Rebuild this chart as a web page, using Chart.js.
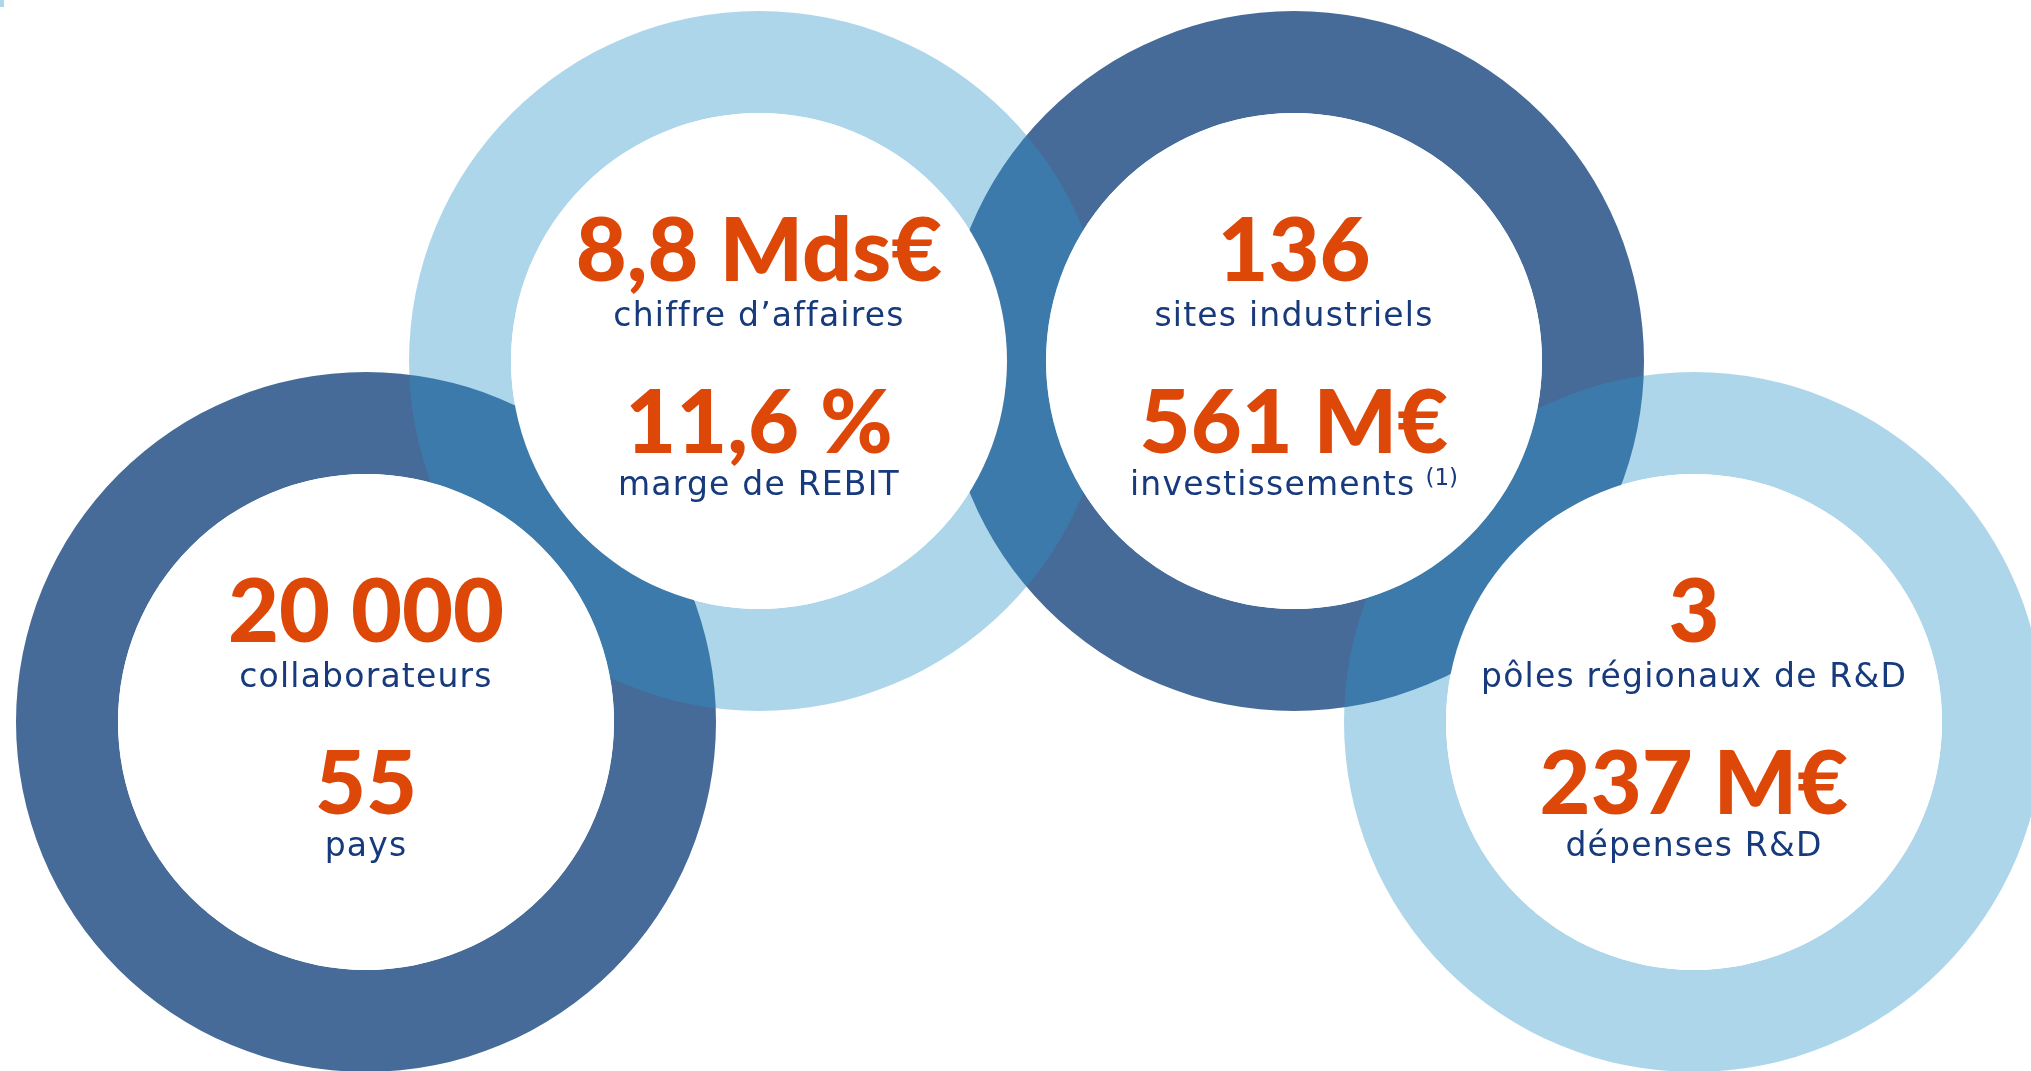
<!DOCTYPE html>
<html lang="fr">
<head>
<meta charset="utf-8">
<title>Chiffres clés</title>
<script src="https://cdn.jsdelivr.net/npm/chart.js@4.4.1/dist/chart.umd.min.js"></script>
<style>
  html, body { margin: 0; padding: 0; background: #fff; }
  #stage { position: relative; width: 2031px; height: 1071px; overflow: hidden; background: #fff; }
  .ring { position: absolute; }
  .disc { position: absolute; background: #fff; border-radius: 50%; z-index: 3; }
  .line { position: absolute; text-align: center; white-space: nowrap; line-height: 1; z-index: 4; }
  .num { color: #dd4708; font-family: Lato, Roboto, sans-serif; font-weight: 900; font-size: 88px; }
  .lbl { color: #173a7c; font-family: "DejaVu Sans", sans-serif; font-size: 33px; letter-spacing: 1.2px; }
  .note { font-size: 23px; position: relative; top: -10px; margin-left: 10px; letter-spacing: 0; }
  #corner { position: absolute; left: 0; top: 0; width: 4px; height: 7px; background: #aed6ea; }
</style>
</head>
<body>
<div id="stage"><div id="corner"></div></div>
<script>
// chiffres clés, un anneau par bloc
const ringTopValues = ['20 000', '8,8 Mds€', '136', '3'];
const ringTopLabels = ['collaborateurs', 'chiffre d’affaires', 'sites industriels', 'pôles régionaux de R&D'];
const ringBottomValues = ['55', '11,6 %', '561 M€', '237 M€'];
const ringBottomLabels = ['pays', 'marge de REBIT', 'investissements', 'dépenses R&D'];
const ringNotes = ['', '', '(1)', ''];
const ringShares = [100, 100, 100, 100];
const ringTones = ['dark', 'light', 'dark', 'light'];

// mise en page
const centers = [[366, 722], [759, 361], [1294, 361], [1694, 722]];
const outerR = 350, innerR = 248;
// light rings are see-through: crossing a dark ring gives the mid blue overlap
const toneColor = { dark: '#476b99', light: 'rgba(42, 147, 200, 0.38)' };
const toneLayer = { dark: 1, light: 2 };
const lineOffsets = [-80, -35, 92, 134]; // baselines from ring centre

const stage = document.getElementById('stage');
const meas = document.createElement('canvas').getContext('2d');

function baselineShift(el) {
  const cs = getComputedStyle(el);
  const size = parseFloat(cs.fontSize);
  meas.font = cs.fontWeight + ' ' + cs.fontSize + ' ' + cs.fontFamily;
  const m = meas.measureText('Hg');
  const a = m.fontBoundingBoxAscent, d = m.fontBoundingBoxDescent;
  return (size - (a + d)) / 2 + a;
}

function addLine(cls, text, cx, baseline, note) {
  const el = document.createElement('div');
  el.className = 'line ' + cls;
  el.textContent = text;
  if (note) {
    const sup = document.createElement('span');
    sup.className = 'note';
    sup.textContent = note;
    el.appendChild(sup);
  }
  el.style.left = (cx - 400) + 'px';
  el.style.width = '800px';
  stage.appendChild(el);
  el.style.top = (baseline - baselineShift(el)) + 'px';
}

ringShares.forEach(function (share, i) {
  const cx = centers[i][0], cy = centers[i][1];

  const box = document.createElement('div');
  box.className = 'ring';
  box.style.left = (cx - outerR) + 'px';
  box.style.top = (cy - outerR) + 'px';
  box.style.zIndex = toneLayer[ringTones[i]];
  const canvas = document.createElement('canvas');
  canvas.width = 2 * outerR;
  canvas.height = 2 * outerR;
  box.appendChild(canvas);
  stage.appendChild(box);

  new Chart(canvas.getContext('2d'), {
    type: 'doughnut',
    data: {
      labels: [ringTopLabels[i]],
      datasets: [{
        data: [share],
        backgroundColor: toneColor[ringTones[i]],
        borderWidth: 0,
        hoverBorderWidth: 0,
        hoverOffset: 0
      }]
    },
    options: {
      responsive: false,
      animation: false,
      events: [],
      radius: outerR,
      cutout: innerR,
      layout: { padding: 0 },
      plugins: { legend: { display: false }, tooltip: { enabled: false } }
    }
  });

  const disc = document.createElement('div');
  disc.className = 'disc';
  disc.style.left = (cx - innerR) + 'px';
  disc.style.top = (cy - innerR) + 'px';
  disc.style.width = (2 * innerR) + 'px';
  disc.style.height = (2 * innerR) + 'px';
  stage.appendChild(disc);

  addLine('num', ringTopValues[i], cx, cy + lineOffsets[0]);
  addLine('lbl', ringTopLabels[i], cx, cy + lineOffsets[1]);
  addLine('num', ringBottomValues[i], cx, cy + lineOffsets[2]);
  addLine('lbl', ringBottomLabels[i], cx, cy + lineOffsets[3], ringNotes[i]);
});
</script>
</body>
</html>
